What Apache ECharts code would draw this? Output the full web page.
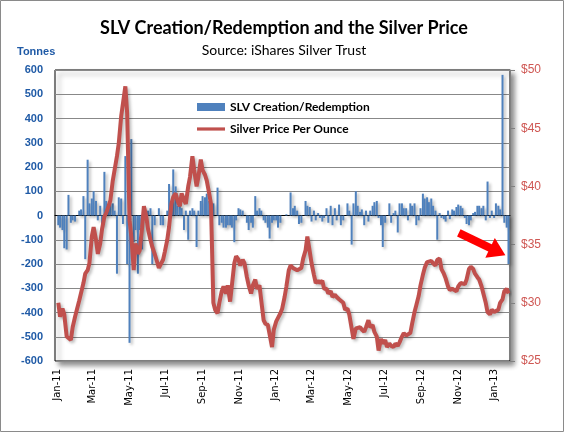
<!DOCTYPE html>
<html><head><meta charset="utf-8">
<script src="https://cdn.jsdelivr.net/npm/echarts/dist/echarts.min.js"></script>
<style>html,body{margin:0;padding:0;background:#fff}#c{width:568px;height:435px}</style>
</head><body><div id="c"></div>
<script>
// x axis: one category per calendar day
const axisStart = [2010, 11, 29];   // 29 Dec 2010
const axisDays = 760;
const monthNames = ['Jan','Feb','Mar','Apr','May','Jun','Jul','Aug','Sep','Oct','Nov','Dec'];
const labelMonths = ['01','03','05','07','09','11'];

// both series are sampled twice weekly (Mon, Thu) from 3 Jan 2011
const sampleStartOffset = 5;

// Silver price ($/oz)
const priceValues = [
  30.0,28.8,29.5,29.0,27.1,27.1,26.8,27.9,
  28.8,29.4,30.2,30.2,31.7,32.5,32.8,33.4,
  35.7,36.5,35.4,34.2,35.1,36.3,37.4,37.7,
  38.3,38.8,40.5,41.4,42.6,43.7,46.0,46.0,
  48.6,46.3,37.1,35.7,32.8,35.1,34.2,34.5,
  36.5,38.3,37.4,36.3,35.4,34.8,34.2,33.7,
  33.0,33.1,33.7,34.4,35.4,36.5,38.5,39.1,
  39.4,38.8,38.3,39.4,38.8,38.5,40.0,40.8,
  42.6,41.4,40.0,40.8,42.3,41.4,41.0,40.5,
  39.4,38.5,30.0,29.4,29.1,30.0,31.0,31.4,
  30.8,31.5,30.1,30.2,33.4,34.0,33.7,33.2,
  33.7,33.4,32.2,31.5,30.8,31.5,32.0,31.2,
  31.5,30.2,28.5,28.2,28.1,28.1,26.2,27.7,
  28.4,28.7,29.1,29.5,30.5,31.4,32.8,33.2,
  33.0,33.1,32.8,32.7,33.0,33.8,34.5,35.7,
  34.4,33.4,32.4,31.7,31.9,31.7,31.9,31.2,
  31.2,30.8,31.0,30.5,30.7,30.5,30.3,30.4,
  30.0,29.4,29.5,29.0,27.8,26.9,27.8,27.9,
  27.9,27.7,27.5,27.9,28.5,27.9,28.1,27.5,
  27.1,25.9,26.9,26.5,26.8,26.2,26.5,26.3,
  26.2,26.5,26.3,26.6,27.1,27.4,27.2,27.2,
  27.4,28.2,29.2,29.8,30.6,31.5,32.4,33.0,
  33.5,33.6,33.6,33.4,33.2,33.7,33.8,32.9,
  32.5,32.1,31.4,31.1,31.2,31.1,31.0,31.4,
  31.7,31.6,31.6,32.0,32.9,33.1,32.9,32.5,
  32.2,32.0,31.4,30.8,30.0,29.2,29.0,29.4,
  29.2,29.2,29.4,30.0,30.3,31.0,31.2,30.8
];

// SLV creation/redemption (tonnes)
const flowValues = [
  -40,-50,-60,-135,-140,85,-30,-20,
  -25,0,20,25,80,-180,230,50,
  70,100,60,-20,40,-40,180,60,
  30,50,50,20,-240,75,70,-35,
  245,-200,-525,315,-110,-60,-240,-60,
  -140,20,-30,20,30,-200,-40,0,
  30,-40,-40,0,20,130,60,190,
  120,40,40,30,-60,20,-100,20,
  30,20,-130,20,60,80,75,90,
  60,30,50,0,115,-40,-30,-50,
  -50,-40,-40,-50,-110,-20,30,25,
  20,0,-30,-60,-30,-50,80,20,
  30,20,-20,-30,-50,-95,-30,-20,
  -20,-50,-30,0,0,5,0,95,
  30,40,20,-35,-30,0,60,40,
  35,-25,20,-20,10,-10,-25,-10,
  30,-30,40,-40,30,-20,45,-40,
  -20,0,50,20,-120,50,100,40,
  15,25,-40,20,-25,20,40,55,
  60,-10,-40,-130,-30,0,50,-30,
  10,20,-70,50,50,30,30,-20,
  50,40,50,-40,-20,30,90,70,
  75,55,70,40,20,-100,10,-10,
  -15,-25,20,-15,25,20,35,45,
  40,30,-10,-35,-40,-20,10,15,
  40,40,30,40,-20,140,-10,20,
  -10,50,40,25,580,-30,-50,-200
];

// annotation arrow (day index, tonnes)
const arrowFrom = [674, -72];
const arrowTo = [739, -149];

const seriesNames = ['SLV Creation/Redemption', 'Silver Price Per Ounce'];

const t0 = Date.UTC(axisStart[0], axisStart[1], axisStart[2]);
const cats = [];
for (let i = 0; i < axisDays; i++) cats.push(new Date(t0 + i * 86400000).toISOString().slice(0, 10));
const slotDay = k => sampleStartOffset + 7 * Math.floor(k / 2) + 3 * (k % 2);

const priceData = new Array(axisDays).fill(null);
priceValues.forEach((v, k) => { priceData[slotDay(k)] = v; });
const flowData = new Array(axisDays).fill(null);
flowValues.forEach((v, k) => { flowData[slotDay(k)] = v; });

const isLabelDay = (idx, val) => val.slice(8) === '01' && labelMonths.includes(val.slice(5, 7));

const chart = echarts.init(document.getElementById('c'), null, {renderer: 'canvas'});
chart.setOption({
  animation: false,
  backgroundColor: '#fff',
  title: [
    {text: 'SLV Creation/Redemption and the Silver Price', left: 'center', top: 14,
     textStyle: {fontFamily: 'Lato', fontWeight: 'bold', fontSize: 18, color: '#000'}},
    {text: 'Source: iShares Silver Trust', left: 'center', top: 38,
     textStyle: {fontFamily: 'Lato', fontWeight: 'normal', fontSize: 14, color: '#000'}},
    {text: 'Tonnes', left: 12, top: 41,
     textStyle: {fontFamily: 'Liberation Sans', fontWeight: 'bold', fontSize: 11, color: '#1F5AA6'}}
  ],
  graphic: [{type: 'rect', silent: true, shape: {x: 0.5, y: 0.5, width: 563, height: 431},
    style: {fill: 'none', stroke: '#8a8a8a', lineWidth: 1}}],
  legend: {
    orient: 'vertical', left: 192, top: 96, itemWidth: 28, itemHeight: 8, itemGap: 10,
    textStyle: {fontFamily: 'Lato', fontWeight: 'bold', fontSize: 12, color: '#000'},
    data: [{name: seriesNames[0], icon: 'rect'},
           {name: seriesNames[1], icon: 'path://M0,0 L0,0 M0,2.4 L28,2.4 L28,5.6 L0,5.6 Z M28,8 L28,8'}]
  },
  grid: {left: 55, right: 58, top: 70, bottom: 74, show: true, borderColor: '#000', borderWidth: 1,
    backgroundColor: '#fff', shadowColor: 'rgba(0,0,0,0.45)', shadowBlur: 5, shadowOffsetX: 4, shadowOffsetY: 4},
  xAxis: {
    type: 'category', data: cats, boundaryGap: true,
    axisLine: {show: true, lineStyle: {color: '#000'}},
    axisTick: {show: false},
    splitLine: {show: false},
    axisLabel: {
      rotate: 90, margin: 8, interval: isLabelDay,
      fontFamily: 'DejaVu Sans', fontSize: 10, color: '#000',
      formatter: v => monthNames[+v.slice(5, 7) - 1] + '-' + v.slice(2, 4)
    }
  },
  yAxis: [
    {type: 'value', min: -600, max: 600, interval: 100,
     axisLine: {show: false}, axisTick: {show: false},
     splitLine: {lineStyle: {color: '#888', width: 1}},
     axisLabel: {margin: 12, fontFamily: 'Liberation Sans', fontWeight: 'bold', fontSize: 11, color: '#1F5AA6'}},
    {type: 'value', min: 25, max: 50, interval: 5, position: 'right',
     axisLine: {show: true, lineStyle: {color: '#808080'}},
     axisTick: {show: true, length: 5, lineStyle: {color: '#808080'}},
     splitLine: {show: false},
     axisLabel: {margin: 11, fontFamily: 'Liberation Sans', fontSize: 12, color: '#CF5753', formatter: '${value}'}}
  ],
  series: [
    {name: seriesNames[0], type: 'bar', data: flowData, yAxisIndex: 0, barWidth: 2,
     itemStyle: {color: '#4F81BD', shadowColor: 'rgba(0,0,0,0.3)', shadowBlur: 3, shadowOffsetX: 2, shadowOffsetY: 2},
     markLine: {silent: true, z: 10, symbol: ['none', 'triangle'], symbolSize: [22, 17],
       lineStyle: {color: '#FF0000', width: 8, type: 'solid'}, label: {show: false},
       emphasis: {disabled: true},
       data: [[{coord: [cats[arrowFrom[0]], arrowFrom[1]]}, {coord: [cats[arrowTo[0]], arrowTo[1]]}]]}},
    {name: seriesNames[1], type: 'line', data: priceData, yAxisIndex: 1, connectNulls: true,
     showSymbol: false, symbol: 'none',
     lineStyle: {color: '#C0504D', width: 4, shadowColor: 'rgba(0,0,0,0.25)', shadowBlur: 3, shadowOffsetX: 2, shadowOffsetY: 2},
     itemStyle: {color: '#C0504D'}}
  ]
});
</script></body></html>
